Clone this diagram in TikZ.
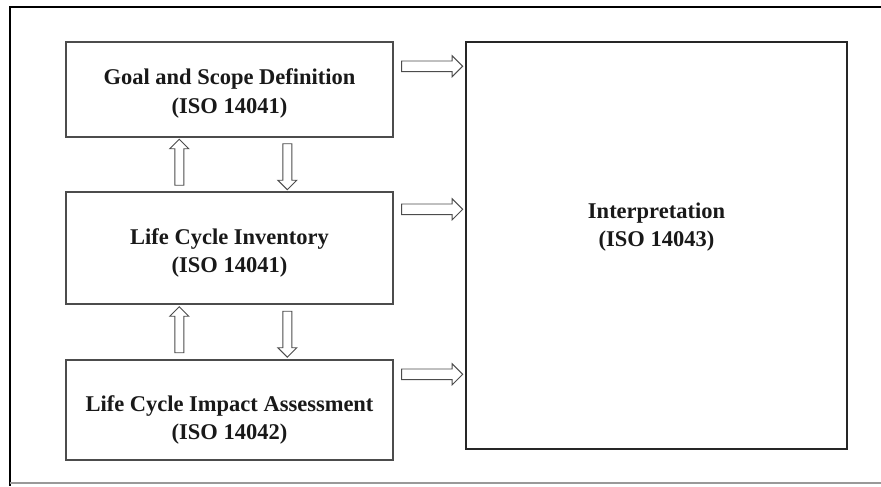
\documentclass[tikz,border=0pt]{standalone}
\usepackage{fontspec}
\setmainfont{Liberation Serif}
\usetikzlibrary{shapes.arrows,calc}
\tikzset{
  box/.style={draw=black!70, line width=1pt, minimum width=8.175cm, inner sep=0pt},
  lbl/.style={font=\fontsize{16}{20}\selectfont\bfseries, align=center, text=black!90},
  blockarrow/.style={single arrow, draw=black!70, fill=white, line width=0.7pt, inner xsep=0pt},
  harrow/.style={blockarrow, inner ysep=0.12cm, single arrow head extend=0.13cm, minimum height=1.525cm},
  varrow/.style={blockarrow, inner ysep=0.1cm, single arrow head extend=0.125cm, minimum height=1.15cm}
}
\begin{document}
\begin{tikzpicture}
\useasboundingbox (0,0) rectangle (22.025,12.15);
%frame
\draw[line width=2pt] (22.025,11.975) -- (0.25,11.975) -- (0.25,0);
\draw[gray!80, line width=2pt] (0.25,0.075) -- (22.025,0.075);
%boxes
\node[box, minimum height=2.375cm] (goal) at (5.7375,9.9125) {};
\node[box, minimum height=2.8cm] (lci) at (5.7375,5.95) {};
\node[box, minimum height=2.5cm] (lcia) at (5.7375,1.9) {};
\node[box, draw=black!85, minimum width=9.525cm, minimum height=10.175cm] (interp) at (16.4125,6.0125) {};
%texts
\node[lbl] (goaltxt) at ($(goal.center)+(0,-0.1)$) {Goal and Scope Definition\\(ISO 14041)};
\node[lbl] (lcitxt) at ($(lci.center)+(0,-0.125)$) {Life Cycle Inventory\\(ISO 14041)};
\node[lbl] (lciatxt) at ($(lcia.center)+(0,-0.25)$) {Life Cycle Impact Assessment\\(ISO 14042)};
\node[lbl] (interptxt) at ($(interp.center)+(0,0.46)$) {Interpretation\\(ISO 14043)};
%arrows to interpretation
\node[harrow] (goalout) at ($(goal.north east)!0.5!(goal.north east -| interp.west)+(0,-0.625)$) {};
\node[harrow] (lciout) at ($(lci.north east)!0.5!(lci.north east -| interp.west)+(0,-0.45)$) {};
\node[harrow] (lciaout) at ($(lcia.north east)!0.5!(lcia.north east -| interp.west)+(0,-0.375)$) {};
%arrows between phases
\node[varrow, rotate=90] (up1) at ($(goal.south west)!0.5!(lci.north west)+(2.85,0)$) {};
\node[varrow, rotate=-90] (down1) at ($(goal.south west)!0.5!(lci.north west)+(5.55,0)$) {};
\node[varrow, rotate=90] (up2) at ($(lci.south west)!0.5!(lcia.north west)+(2.85,0)$) {};
\node[varrow, rotate=-90] (down2) at ($(lci.south west)!0.5!(lcia.north west)+(5.55,0)$) {};
\end{tikzpicture}
\end{document}
